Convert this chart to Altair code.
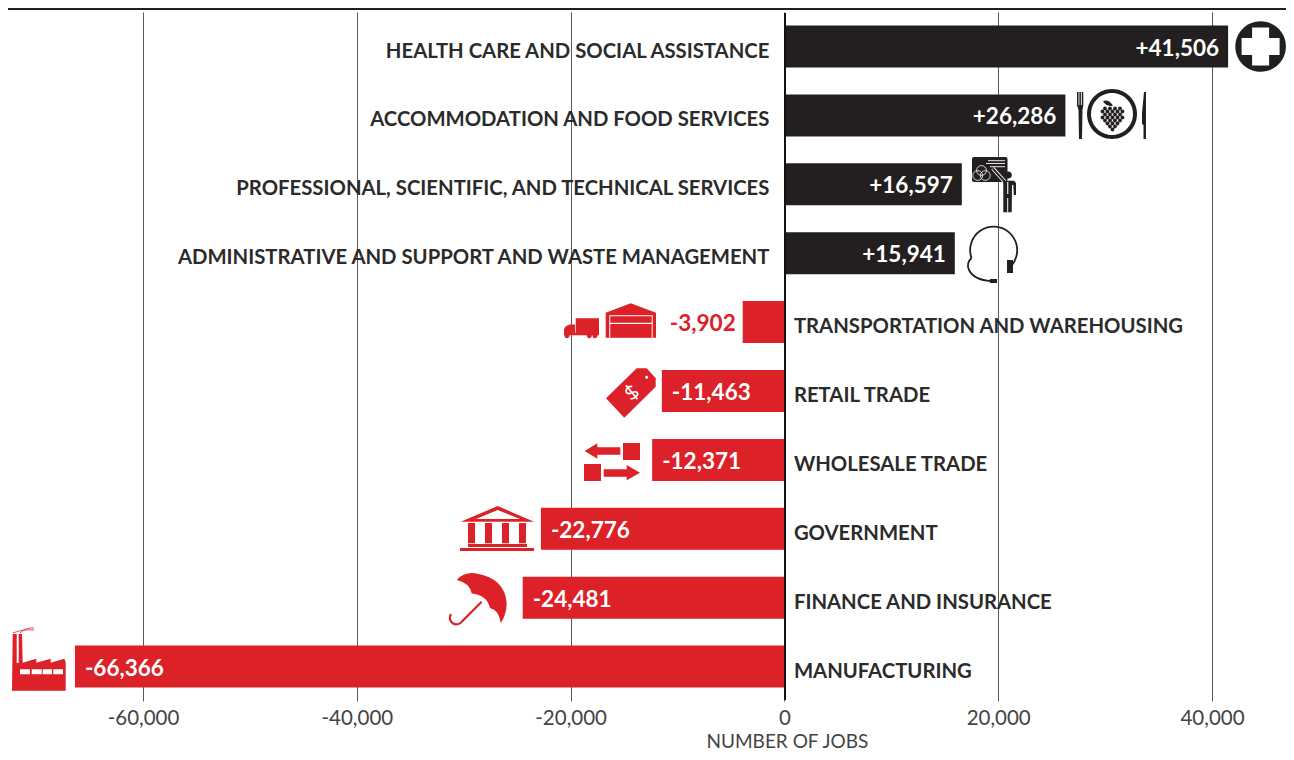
import math
import altair as alt
import pandas as pd

categories = [
    "HEALTH CARE AND SOCIAL ASSISTANCE",
    "ACCOMMODATION AND FOOD SERVICES",
    "PROFESSIONAL, SCIENTIFIC, AND TECHNICAL SERVICES",
    "ADMINISTRATIVE AND SUPPORT AND WASTE MANAGEMENT",
    "TRANSPORTATION AND WAREHOUSING",
    "RETAIL TRADE",
    "WHOLESALE TRADE",
    "GOVERNMENT",
    "FINANCE AND INSURANCE",
    "MANUFACTURING",
]
values = [41506, 26286, 16597, 15941, -3902, -11463, -12371, -22776, -24481, -66366]
tick_values = [-60000, -40000, -20000, 0, 20000, 40000]

DARK = "#231f20"
RED = "#dc2128"
GRID = "#5a5a5a"
WHITE = "#ffffff"
NONE = "transparent"
FONT = "Lato"

# layout of the page
PX_PER_UNIT = 0.01069
ZERO_PX = 784.4
LEFT_PX, RIGHT_PX = 8, 1286
TOP_PX, BOTTOM_PX = 13, 700
ROW0_PX, ROW_STEP = 46.5, 68.9

x_scale = alt.Scale(
    domain=[(LEFT_PX - ZERO_PX) / PX_PER_UNIT, (RIGHT_PX - ZERO_PX) / PX_PER_UNIT],
    nice=False, zero=False)
band_start = ROW0_PX - ROW_STEP / 2 - TOP_PX
y_scale = alt.Scale(domain=categories, range=[band_start, band_start + 10 * ROW_STEP],
                    paddingInner=0, paddingOuter=0)


# ----- pictogram glyphs: each glyph is a vector path anchored at its bar's end -----
def rect(x, y, w, h):
    return f"M{x},{y}L{x+w},{y}L{x+w},{y+h}L{x},{y+h}Z"


def poly(*pts):
    return "M" + "L".join(f"{a},{b}" for a, b in pts) + "Z"


def circle(cx, cy, r):
    return f"M{cx-r},{cy}A{r},{r} 0 1 1 {cx+r},{cy}A{r},{r} 0 1 1 {cx-r},{cy}Z"


def shift(path, dx, dy):
    """Move a path written in page pixels so that it is relative to its anchor."""
    tokens = []
    i = 0
    while i < len(path):
        c = path[i]
        if c.isalpha():
            tokens.append(c)
            i += 1
        elif c in " ,":
            i += 1
        else:
            j = i + 1
            while j < len(path) and (path[j].isdigit() or path[j] in ".e"):
                j += 1
            tokens.append(float(path[i:j]))
            i = j
    res = []
    cmd = None
    k = 0
    while k < len(tokens):
        t = tokens[k]
        if isinstance(t, str):
            cmd = t
            res.append(t)
            k += 1
            if cmd == "Z":
                continue
        if cmd == "A":
            a = tokens[k:k + 7]
            res.append(f"{a[0]:g},{a[1]:g} {int(a[2])} {int(a[3])} {int(a[4])} {a[5]+dx:.2f},{a[6]+dy:.2f}")
            k += 7
        else:
            n = {"M": 2, "L": 2, "Q": 4, "C": 6}[cmd]
            a = tokens[k:k + n]
            res.append(" ".join(f"{a[m]+dx:.2f},{a[m+1]+dy:.2f}" for m in range(0, n, 2)))
            k += n
    return "".join(res)


dollar_pts = [(4, -4), (2, -7), (-5, -6.5), (-4, -2), (-3, 1), (4, 0), (4, 3.5), (4, 7), (-3, 7), (-5, 4)]
rad = math.radians(-40)


def dollar(px, py):
    c, s = math.cos(rad), math.sin(rad)
    p = [(px + a * c - b * s, py + a * s + b * c) for a, b in dollar_pts]
    top = (px + 9 * s, py - 9 * c)
    bot = (px - 9 * s, py + 9 * c)
    body = "M{:.2f},{:.2f}".format(*p[0])
    for m in range(1, 10, 3):
        body += "C" + " ".join("{:.2f},{:.2f}".format(*q) for q in p[m:m + 3])
    return body + "M{:.2f},{:.2f}L{:.2f},{:.2f}".format(*top, *bot)


grape_rows = [(108.5, [-7, -2, 3, 8]), (111.5, [-9.5, -4.5, 0.5, 5.5, 10.5]), (114.5, [-7, -2, 3, 8]),
              (117.5, [-9.5, -4.5, 0.5, 5.5, 10.5]), (120.5, [-7, -2, 3, 8]), (123.5, [-4.5, 0.5, 5.5]),
              (126.5, [-2, 3]), (129.5, [0.5])]
grapes = "".join(circle(1112 + gx, gy, 1.9) for gy, xs in grape_rows for gx in xs)

# (row, fill, stroke, strokeWidth, path in page pixels)
glyphs = [
    # cross
    (0, DARK, NONE, 0, circle(1260.6, 46.5, 25.3)),
    (0, WHITE, NONE, 0, rect(1241.6, 38, 38, 17) + rect(1252.1, 27.5, 17, 38)),
    # plate, fork and knife
    (1, DARK, NONE, 0, circle(1112, 114, 25)),
    (1, WHITE, NONE, 0, circle(1112, 114, 21)),
    (1, DARK, NONE, 0, grapes + "M1103,101Q1109,99 1113,105.7Q1106,107 1103,101Z"),
    (1, DARK, NONE, 0, rect(1077, 92, 1.5, 14) + rect(1079.4, 92, 1.5, 14) + rect(1081.8, 92, 1.5, 14)
     + poly((1077, 105), (1083.3, 105), (1082.5, 110), (1082, 139), (1079, 139), (1078.5, 110))),
    (1, DARK, NONE, 0, poly((1144, 92), (1146, 92), (1146, 139), (1143.5, 139), (1143.5, 125), (1142, 124), (1142, 113))),
    # presenter at a board
    (2, DARK, NONE, 0, "M974,157L1005.5,157Q1007.5,157 1007.5,159L1007.5,180Q1007.5,182 1005.5,182L974,182"
                       "Q972,182 972,180L972,159Q972,157 974,157Z"),
    (2, NONE, WHITE, 0.8, circle(981.5, 170.5, 4.9) + circle(977.7, 175.5, 4.9) + circle(985.3, 175.5, 4.9)),
    (2, NONE, WHITE, 0.9, "M988,160.7L1005,160.7M986,163.5L1005,163.5M990,166.7L1005,166.7"),
    (2, NONE, WHITE, 3.8, "M992.7,168.3L1005,182"),
    (2, NONE, DARK, 2, "M992.7,168.3L1005,182"),
    (2, DARK, NONE, 0, circle(1008.3, 175, 3.6)),
    (2, DARK, NONE, 0, poly((1003, 180.7), (1014, 180.7), (1016, 183), (1016, 195), (1013.8, 195), (1013.3, 185),
                            (1012, 185), (1011.7, 212.3), (1003.3, 212.3), (1003.3, 186))),
    (2, WHITE, NONE, 0, rect(1007.2, 182, 1.1, 12) + rect(1007.2, 198, 1, 14.3)),
    # headset
    (3, NONE, DARK, 1.8, "M971.5,258A23.5,23.5 0 1 1 1015,260Q1014,263 1012,265"),
    (3, NONE, DARK, 1.8, "M971.5,258Q966,263 969,270Q974,280 991,281"),
    (3, DARK, NONE, 0, rect(1007, 260, 6, 13) + rect(990, 279, 7, 4)),
    # truck and warehouse
    (4, RED, NONE, 0, poly((605.7, 312.7), (630.7, 303.3), (656, 312.7), (656, 337.7), (605.7, 337.7))),
    (4, WHITE, NONE, 0, rect(609.3, 315.3, 43.4, 22.4)),
    (4, RED, NONE, 0, rect(610.3, 316.3, 41.4, 6.5) + rect(610.3, 324, 41.4, 13.7)),
    (4, RED, NONE, 0, rect(575.7, 318.3, 23.3, 14.4) + rect(564, 332.8, 35, 2.5)
     + poly((564, 329), (566, 326), (570, 324.5), (575, 324.5), (575, 334), (564, 334))
     + circle(567, 335.7, 2.5) + circle(589.3, 335.7, 2.5) + circle(595, 335.7, 2.5)),
    # price tag
    (5, RED, NONE, 0, poly((606, 398.3), (624.3, 417.7), (655.7, 386.7), (655.7, 378.3), (646.7, 368.3), (636.7, 368.3))),
    (5, WHITE, NONE, 0, circle(646.7, 377.3, 1.5)),
    (5, NONE, WHITE, 1.7, dollar(631.7, 392.3)),
    # swapped goods
    (6, RED, NONE, 0, rect(623, 443, 17, 17) + rect(584, 464, 17, 17)
     + poly((584.7, 451), (597.3, 443.3), (597.3, 447.3), (620.3, 447.3), (620.3, 454.7), (597.3, 454.7), (597.3, 458.7))
     + poly((640, 472.7), (626.7, 465), (626.7, 469.3), (603.7, 469.3), (603.7, 476.7), (626.7, 476.7), (626.7, 480.3))),
    # government building
    (7, RED, NONE, 0, poly((497.7, 506), (534, 521.7), (460.7, 521.7))),
    (7, WHITE, NONE, 0, poly((497.7, 510), (520, 519), (476, 519))),
    (7, RED, NONE, 0, rect(468, 523, 7, 20.3) + rect(485, 523, 7, 20.3) + rect(502, 523, 7, 20.3)
     + rect(519, 523, 7, 20.3) + rect(468, 544, 59, 3) + rect(460, 548, 74, 3)),
    # umbrella
    (8, RED, NONE, 0, "M456.7,580Q464,572 475,573.3Q505,578 506.7,603.3Q506.5,615 500.7,623Q499,610 490,608"
                      "Q487,595 471.7,593.5Q470,583 456.7,580Z"),
    (8, NONE, RED, 2.2, "M481.7,601.7L462,621.5A5.6,5.6 0 0 1 451,614"),
    # factory
    (9, RED, NONE, 0, poly((12.7, 634), (22, 634), (22.7, 662.7), (36.3, 658.7), (36.3, 662.7), (50.7, 658.7),
                           (50.7, 662.7), (64.3, 658.7), (65.7, 662), (65.7, 690.7), (12, 690.7))),
    (9, WHITE, NONE, 0, rect(16.7, 634, 2, 29) + rect(20, 669.3, 10, 5) + rect(31.7, 669.3, 10, 5)
     + rect(42.7, 669.3, 9.3, 5) + rect(53.3, 669.3, 9.7, 5)),
    (9, NONE, RED, 0.8, "M13,633Q22,629 34,630M20,633Q26,627 34,628"),
]

icon_rows = []
for row, fill, stroke, sw, path in glyphs:
    ax = ZERO_PX + values[row] * PX_PER_UNIT
    ay = ROW0_PX + row * ROW_STEP
    icon_rows.append({"cat": categories[row], "val": values[row], "fill": fill, "stroke": stroke,
                      "sw": sw, "path": shift(path, -ax, -ay), "n": len(icon_rows)})
icons = pd.DataFrame(icon_rows)

df = pd.DataFrame({"cat": categories, "val": values})
df["label"] = [f"{v:+,}" for v in values]
df["color"] = [DARK if v > 0 else RED for v in values]
pos = df[df.val > 0]
neg = df[df.val < 0]
wide = neg[neg.val < -5000]
narrow = neg[neg.val >= -5000]

x_axis = alt.Axis(
    values=tick_values, labelExpr="replace(format(datum.value, ','), '\u2212', '-')",
    grid=True, gridColor=GRID, gridWidth=1, ticks=False, domain=False,
    labelFont=FONT, labelFontSize=20.5, labelColor="#444444", labelPadding=8, labelFlush=False,
    title="NUMBER OF JOBS", titleFont=FONT, titleFontSize=19, titleFontWeight="normal", titleColor="#444444",
    titleX=ZERO_PX - LEFT_PX + 2.5, titleY=41.5, titleAlign="center", titleBaseline="middle")
X = alt.X("val:Q", scale=x_scale, axis=x_axis)
Y = alt.Y("cat:N", scale=y_scale, axis=None, sort=categories)
X0 = alt.X("zero:Q", scale=x_scale, axis=x_axis)


def base(d):
    return alt.Chart(d.assign(zero=0))


bars = base(df).mark_bar(size=42).encode(x=X, x2=alt.X2(datum=0), y=Y, fill=alt.Fill("color:N", scale=None))
zero_line = base(df.head(1)).mark_rule(color="#111111", strokeWidth=2, xOffset=0.6).encode(x=X0)
top_line = base(df.head(1)).mark_rule(color=DARK, strokeWidth=2).encode(
    x=alt.value(-8), x2=alt.value(1286), y=alt.value(-4))

cat_style = dict(font=FONT, fontSize=20.3, fontWeight="bold", color="#2b2b2b", baseline="middle", dy=5)
cat_pos = base(pos).mark_text(align="right", dx=-15, **cat_style).encode(x=X0, y=Y, text="cat:N")
cat_neg = base(neg).mark_text(align="left", dx=9.5, **cat_style).encode(x=X0, y=Y, text="cat:N")

val_style = dict(font=FONT, fontSize=22.5, fontWeight="bold", baseline="middle", dy=2)
val_pos = base(pos).mark_text(align="right", dx=-9, color=WHITE, **val_style).encode(x=X, y=Y, text="label:N")
val_neg = base(wide).mark_text(align="left", dx=10, color=WHITE, **val_style).encode(x=X, y=Y, text="label:N")
val_out = base(narrow).mark_text(align="right", dx=-7, color=RED, **val_style).encode(x=X, y=Y, text="label:N")

icon_layer = alt.Chart(icons).mark_point(filled=True, opacity=1, size=4).encode(
    x=X,
    y=Y,
    shape=alt.Shape("path:N", scale=None),
    fill=alt.Fill("fill:N", scale=None),
    stroke=alt.Stroke("stroke:N", scale=None),
    strokeWidth=alt.StrokeWidth("sw:Q", scale=None),
    order=alt.Order("n:Q"),
)

chart = alt.layer(bars, cat_pos, cat_neg, val_pos, val_neg, val_out, icon_layer, zero_line, top_line).properties(
    width=RIGHT_PX - LEFT_PX,
    height=BOTTOM_PX - TOP_PX,
    autosize=alt.AutoSizeParams(type="none"),
    padding={"left": 0, "top": TOP_PX - 8, "right": 0, "bottom": 52},
    background="white",
).configure_view(strokeWidth=0)

chart.save("out.html", embed_options={"renderer": "svg", "actions": False})
